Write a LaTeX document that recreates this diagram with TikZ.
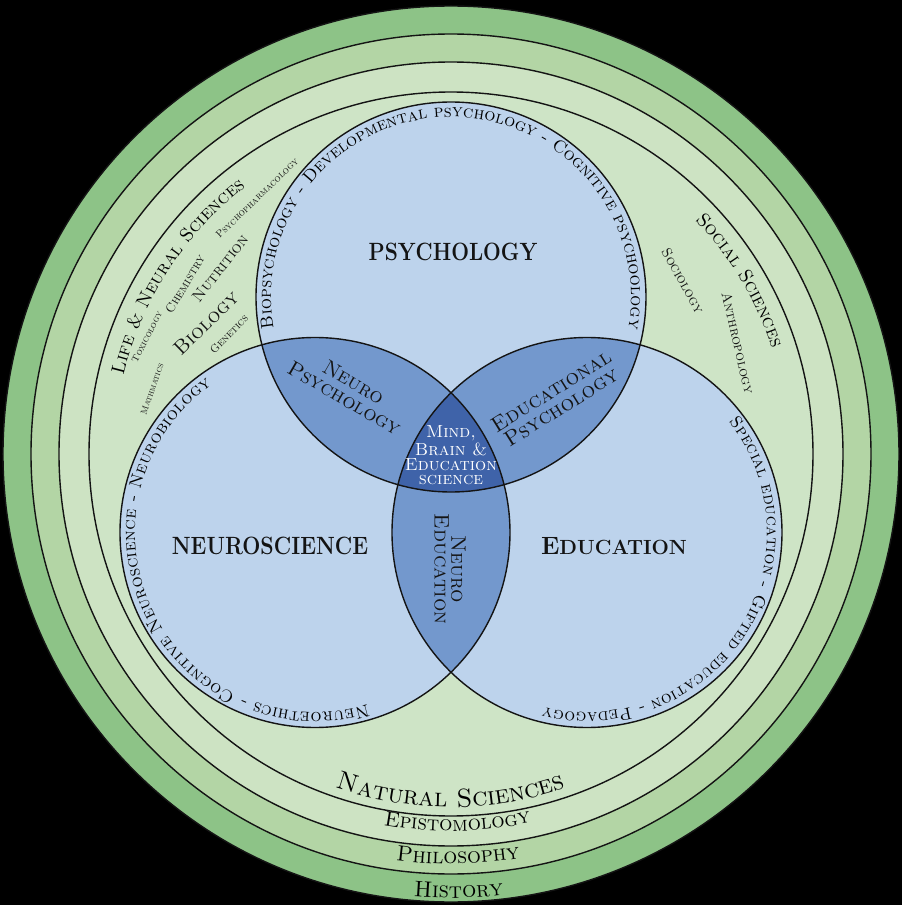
\nonstopmode
\documentclass[tikz,border=0pt]{standalone}
\usepackage{fontspec}
\usetikzlibrary{decorations.text,calc}
\definecolor{histc}{HTML}{8DC387}
\definecolor{philc}{HTML}{B3D5A5}
\definecolor{episc}{HTML}{CDE3C3}
\definecolor{innerc}{HTML}{CEE4C6}
\definecolor{vlight}{HTML}{BDD3EC}
\definecolor{vmid}{HTML}{7398CD}
\definecolor{vdark}{HTML}{3F63A9}
\definecolor{linec}{HTML}{141414}
\definecolor{textc}{HTML}{141414}
\newcommand{\setfs}[1]{\fontsize{#1}{#1}\selectfont}
\tikzset{
  ringline/.style={draw=linec, line width=1.4pt},
  bigword/.style={font=\setfs{25}\bfseries, xscale=0.84, text=textc, inner sep=0pt},
  lenslabel/.style={align=center, text=textc, inner sep=0pt},
  smallword/.style={text=textc, inner sep=0pt},
}
\begin{document}
\begin{tikzpicture}[x=1pt,y=1pt]
\useasboundingbox (-451,-451) rectangle (451,454);
\fill[black] (-451,-451) rectangle (451,454);
\coordinate (O) at (0,0);
\coordinate (P) at (0,157);
\coordinate (N) at (-136,-78.5);
\coordinate (E) at (136,-78.5);
% rings
\draw[ringline, fill=histc] (O) circle[radius=448];
\draw[ringline, fill=philc] (O) circle[radius=420];
\draw[ringline, fill=episc] (O) circle[radius=392];
\draw[ringline, fill=innerc] (O) circle[radius=362];
% venn
\fill[vlight] (P) circle[radius=195];
\fill[vlight] (N) circle[radius=195];
\fill[vlight] (E) circle[radius=195];
\begin{scope}\clip (P) circle[radius=195]; \fill[vmid] (N) circle[radius=195];\end{scope}
\begin{scope}\clip (P) circle[radius=195]; \fill[vmid] (E) circle[radius=195];\end{scope}
\begin{scope}\clip (N) circle[radius=195]; \fill[vmid] (E) circle[radius=195];\end{scope}
\begin{scope}\clip (P) circle[radius=195]; \clip (N) circle[radius=195]; \fill[vdark] (E) circle[radius=195];\end{scope}
\draw[ringline] (P) circle[radius=195];
\draw[ringline] (N) circle[radius=195];
\draw[ringline] (E) circle[radius=195];
% texts along venn circles
\path[decorate, decoration={text along path, text align=fit to path,
  text={|\setfs{17.5}\scshape|Biopsychology - Developmental psychology - Cognitive psychoology}}]
  ($(P)+(190:180)$) arc[start angle=190, end angle=-9, radius=180];
\path[decorate, decoration={text along path, text align=fit to path,
  text={|\setfs{17.5}\scshape|Neuroethics - Cognitive Neuroscience - Neurobiology}}]
  ($(N)+(-73:180)$) arc[start angle=-73, end angle=-235, radius=180];
\path[decorate, decoration={text along path, text align=fit to path,
  text={|\setfs{17}\scshape|Special education - Gifted education - Pedagogy}}]
  ($(E)+(38:180)$) arc[start angle=38, end angle=-104, radius=180];
% outer ring labels
\path[decorate, decoration={text along path, text align=center,
  text={|\setfs{26}\scshape|Natural Sciences}}]
  ($(O)+(-115:353)$) arc[start angle=-115, end angle=-65, radius=353];
\path[decorate, decoration={text along path, text align=center,
  text={|\setfs{21}\scshape|Epistomology}}]
  ($(O)+(-111:377)$) arc[start angle=-111, end angle=-67, radius=377];
\path[decorate, decoration={text along path, text align=center,
  text={|\setfs{22}\scshape|Philosophy}}]
  ($(O)+(-104:410)$) arc[start angle=-104, end angle=-74, radius=410];
\path[decorate, decoration={text along path, text align=center,
  text={|\setfs{22.5}\scshape|History}}]
  ($(O)+(-99:444)$) arc[start angle=-99, end angle=-79, radius=444];
\path[decorate, decoration={text along path, text align=center,
  text={|\setfs{19}\scshape|Life {\&} Neural Sciences}}]
  ($(O)+(172:337)$) arc[start angle=172, end angle=122, radius=337];
\path[decorate, decoration={text along path, text align=center,
  text={|\setfs{19}\scshape|Social Sciences}}]
  ($(O)+(52:338)$) arc[start angle=52, end angle=10, radius=338];
% main labels
\node[bigword] (psy) at (2,202) {PSYCHOLOGY};
\node[bigword, xscale=1.02] (neu) at (-181,-92) {NEUROSCIENCE};
\node[bigword, xscale=1.19] (edu) at (163,-92) {E{\setfs{20.5}DUCATION}};
% lens labels
\node[lenslabel, rotate=-30] (np) at (-102,64) {\setfs{21}\scshape Neuro\\[3pt]\setfs{21}\scshape Psychology};
\node[lenslabel, rotate=32] (ep) at (105,55) {\setfs{21.5}\scshape Educational\\[3pt]\setfs{21.5}\scshape Psychology};
\node[lenslabel, rotate=-90] (ne) at (-1,-115) {\setfs{21}\scshape Neuro\\[1pt]\setfs{21}\scshape Education};
\node[lenslabel, text=white] (mbe) at (0,-1) {\setfs{17.5}\scshape Mind,\\[1.5pt]\setfs{17.5}\scshape Brain \&\\[1.5pt]\setfs{17.5}\scshape Education\\[1.5pt]\setfs{17.5}\scshape science};
% small words
\node[smallword, rotate=59] (chem) at (-266,170) {\setfs{12.5}\scshape Chemistry};
\node[smallword, rotate=52] (nutr) at (-231,186) {\setfs{16}\scshape Nutrition};
\node[smallword, rotate=44] (bio) at (-245,131) {\setfs{20}\scshape Biology};
\node[smallword, rotate=46] (gen) at (-222,120) {\setfs{11}\scshape Genetics};
\node[smallword, rotate=63] (tox) at (-304,117) {\setfs{9.5}\scshape Toxicology};
\node[smallword, rotate=44] (pph) at (-194,256) {\setfs{10}\scshape Psychopharmacology};
\node[smallword, rotate=71] (math) at (-299,65) {\setfs{9}\scshape Mathmatics};
\node[smallword, rotate=-61] (soc) at (232,173) {\setfs{14}\scshape Sociology};
\node[smallword, rotate=-77] (ant) at (287,111) {\setfs{14}\scshape Anthropology};
\end{tikzpicture}
\end{document}
